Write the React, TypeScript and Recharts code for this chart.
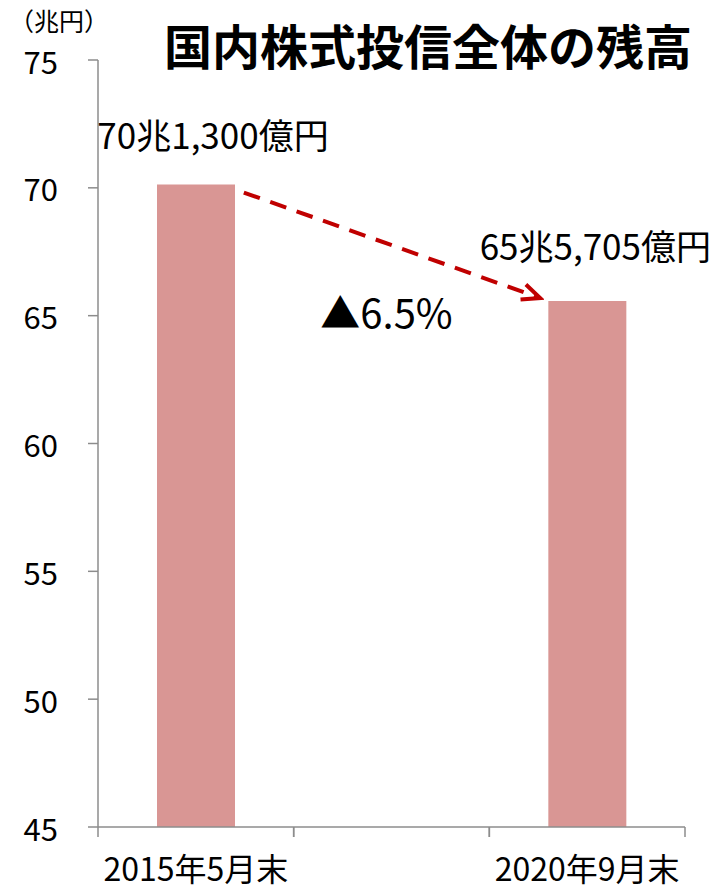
import React from 'react';
import {
  BarChart, Bar, XAxis, YAxis, LabelList, ReferenceLine, ReferenceDot, Label,
} from 'recharts';

// data
const categories = ['2015年5月末', '', '2020年9月末'];
const balances = [70.13, null, 65.5705];
const balanceLabels = ['70兆1,300億円', '', '65兆5,705億円'];
const yTicks = [45, 50, 55, 60, 65, 70, 75];
const changeLabel = '▲6.5%';
const title = '国内株式投信全体の残高';
const unitLabel = '（兆円）';

const W = 715;
const H = 892;
const MARGIN = { top: 60, right: 30, left: 0, bottom: 0 };
const Y_AXIS_W = 98;
const PLOT_W = W - MARGIN.left - MARGIN.right - Y_AXIS_W;
const BAND = PLOT_W / categories.length;
const X_TICK_SIZE = 10;
const X_TICK_MARGIN = 25;

const FONT = '"Noto Sans CJK JP", "Noto Sans", sans-serif';
const AXIS_GREY = '#8c8c8c';
const BAR_COLOR = '#d99694';
const ARROW_RED = '#c00000';

// small hand nudges for the value labels (px)
const LABEL_NUDGE = [{ dx: 17, dy: -51 }, { dx: 0, dy: 0 }, { dx: 8, dy: -57 }];

const chartData = categories.map((name, i) => ({
  name,
  value: balances[i],
  label: balanceLabels[i],
}));

// category labels plus tick marks on the band edges
const XTick = (props: any) => {
  const { x, y, payload } = props;
  const axisY = y - X_TICK_SIZE - X_TICK_MARGIN;
  return (
    <g>
      <line x1={x - BAND / 2} x2={x - BAND / 2} y1={axisY} y2={axisY + X_TICK_SIZE} stroke={AXIS_GREY} strokeWidth={1.5} />
      <line x1={x + BAND / 2} x2={x + BAND / 2} y1={axisY} y2={axisY + X_TICK_SIZE} stroke={AXIS_GREY} strokeWidth={1.5} />
      <text x={x} y={y} dy="0.58em" textAnchor="middle" fontSize={32} fill="#000" fontFamily={FONT}>
        {payload.value}
      </text>
    </g>
  );
};

const YTick = (props: any) => {
  const { x, y, payload } = props;
  return (
    <text x={x + 3} y={y} textAnchor="end" dominantBaseline="central" fontSize={31} fill="#000" fontFamily={FONT}>
      {payload.value}
    </text>
  );
};

const ValueLabel = (props: any) => {
  const { x, y, width, value } = props;
  if (!value) return null;
  const i = balanceLabels.indexOf(value);
  const n = LABEL_NUDGE[i] || { dx: 0, dy: 0 };
  return (
    <text
      x={x + width / 2 + n.dx}
      y={y + n.dy}
      textAnchor="middle"
      dominantBaseline="central"
      fontSize={35}
      fontFamily={FONT}
      fill="#000"
    >
      {value}
    </text>
  );
};

const DashedArrow = (props: any) => {
  const { x1, y1, x2, y2 } = props;
  if (x1 == null) return null;
  const sx = x1 + 48, sy = y1 + 8;
  const ex = x2 - 47, ey = y2 - 3;
  return (
    <g>
      <defs>
        <marker id="openHead" markerUnits="userSpaceOnUse" markerWidth={24} markerHeight={24}
          refX={20} refY={10} orient="auto" viewBox="0 0 24 20">
          <path d="M2,2 L20,10 L2,18" fill="none" stroke={ARROW_RED} strokeWidth={4} strokeLinejoin="miter" />
        </marker>
      </defs>
      <line x1={sx} y1={sy} x2={ex} y2={ey} stroke={ARROW_RED} strokeWidth={4}
        strokeDasharray="17 11" markerEnd="url(#openHead)" />
    </g>
  );
};

export default function App() {
  return (
    <div style={{ position: 'relative', width: W, height: H, background: '#fff' }}>
      <style>{'body{margin:0}'}</style>
      <BarChart width={W} height={H} data={chartData} margin={MARGIN} barSize={78}>
        <XAxis
          dataKey="name"
          interval={0}
          height={65}
          tickLine={false}
          tickSize={X_TICK_SIZE}
          tickMargin={X_TICK_MARGIN}
          axisLine={{ stroke: AXIS_GREY, strokeWidth: 1.5 }}
          tick={<XTick />}
        />
        <YAxis
          width={Y_AXIS_W}
          domain={[45, 75]}
          ticks={yTicks}
          interval={0}
          tickSize={10}
          tickMargin={33}
          axisLine={{ stroke: AXIS_GREY, strokeWidth: 1.5 }}
          tickLine={{ stroke: AXIS_GREY, strokeWidth: 1.5 }}
          tick={<YTick />}
        />
        <Bar dataKey="value" fill={BAR_COLOR} isAnimationActive={false}>
          <LabelList dataKey="label" content={<ValueLabel />} />
        </Bar>
        <ReferenceLine
          segment={[{ x: categories[0], y: balances[0] as number }, { x: categories[2], y: balances[2] as number }]}
          shape={<DashedArrow />}
          ifOverflow="visible"
        />
        <ReferenceDot x={categories[1]} y={65} r={0} fill="none" stroke="none" ifOverflow="visible">
          <Label value={changeLabel} position="center" dx={-5} dy={-2} fontSize={40} fill="#000" fontFamily={FONT} />
        </ReferenceDot>
      </BarChart>
      <div style={{
        position: 'absolute', left: 9, top: 3, fontSize: 25, fontFamily: FONT, color: '#000', lineHeight: '34px',
      }}>
        {unitLabel}
      </div>
      <div style={{
        position: 'absolute', left: 164, top: 13, fontSize: 48, fontWeight: 'bold', fontFamily: FONT,
        color: '#000', lineHeight: '62px', whiteSpace: 'nowrap',
      }}>
        {title}
      </div>
    </div>
  );
}
